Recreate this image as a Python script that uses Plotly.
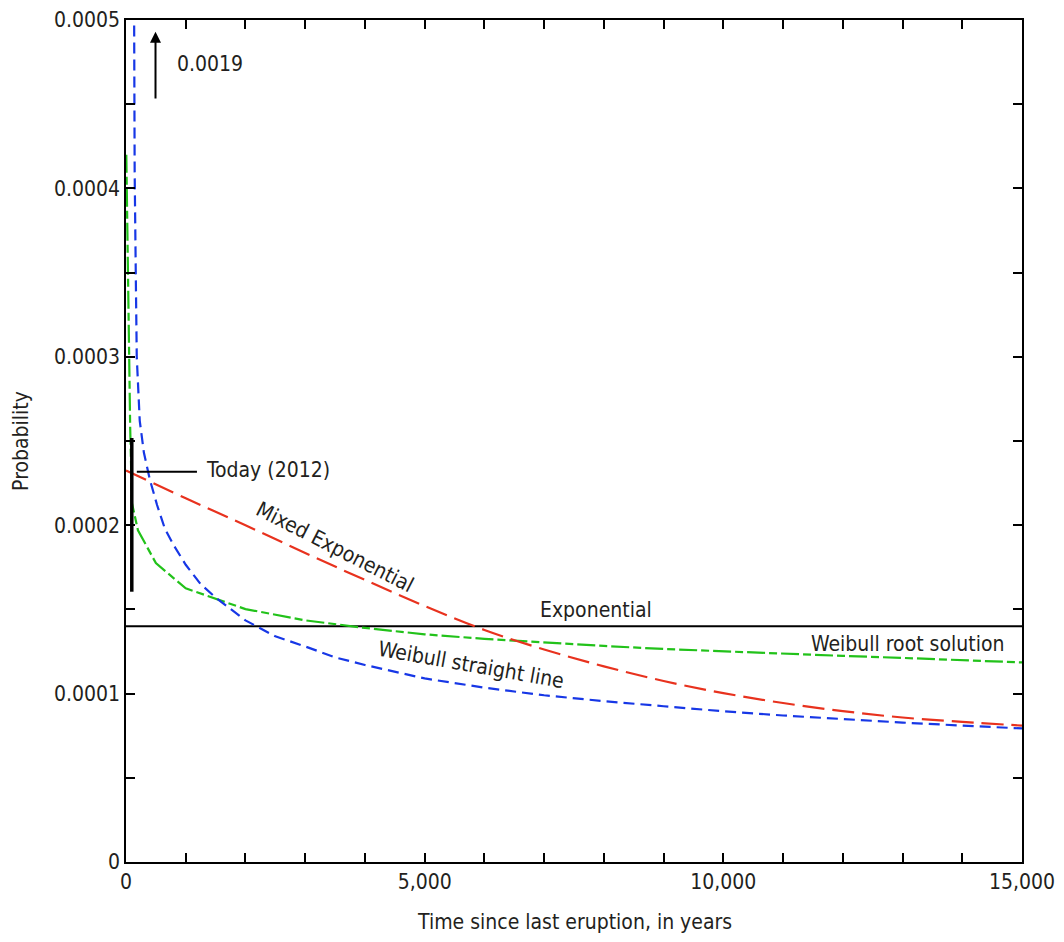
import plotly.graph_objects as go

# ---------------- data ----------------
exp_t = [0, 15000]
exp_p = [0.00014, 0.00014]

mixed_t = [0, 1000, 2000, 3000, 4000, 5000, 6000, 7000, 8000, 9000,
           10000, 11000, 12000, 13000, 14000, 15000]
mixed_p = [0.0002325, 0.000216, 0.0002, 0.0001835, 0.0001675, 0.000152,
           0.0001378, 0.0001262, 0.0001162, 0.0001075, 0.0001003, 0.0000944,
           0.0000896, 0.0000858, 0.0000832, 0.000081]

wroot_t = [5, 30, 70, 100, 200, 500, 1000, 2000, 3000, 4000, 5000, 6000,
           7000, 8000, 9000, 10000, 11000, 12000, 13000, 14000, 15000]
wroot_p = [0.00042, 0.000346, 0.000258, 0.000213, 0.000197, 0.0001775,
           0.0001625, 0.0001502, 0.0001435, 0.000139, 0.0001352, 0.0001325,
           0.0001302, 0.0001283, 0.0001265, 0.000125, 0.0001236, 0.0001224,
           0.0001212, 0.0001197, 0.0001185]

wline_t = [1, 125, 145, 165, 180, 230, 300, 400, 520, 650, 800, 1000, 1250,
           1500, 1750, 2000, 2500, 3000, 3500, 4000, 5000, 6000, 7000, 8000,
           9000, 10000, 11000, 12000, 13000, 14000, 15000]
wline_p = [0.0019, 0.0005, 0.00041, 0.000345, 0.0003, 0.000262, 0.000243,
           0.000227, 0.000212, 0.000198, 0.000188, 0.0001765, 0.000165,
           0.000157, 0.00015, 0.0001435, 0.000134, 0.000128, 0.0001215,
           0.000117, 0.000109, 0.0001035, 0.000099, 0.0000955, 0.0000925,
           0.0000895, 0.000087, 0.0000848, 0.0000828, 0.000081, 0.0000793]

today_t = 97
today_range = [0.0001605, 0.0002518]
today_tick_t = [181, 1188]
today_tick_p = 0.0002318

x_tickvals = list(range(0, 15001, 1000))
x_ticktext = ["0" if v == 0 else (f"{v:,}" if v % 5000 == 0 else "") for v in x_tickvals]
y_tickvals = [i * 0.00005 for i in range(11)]
y_ticklabels = ["0", "", "0.0001", "", "0.0002", "", "0.0003", "", "0.0004", "", "0.0005"]

FONT = "DejaVu Sans Condensed, Liberation Sans Narrow, sans-serif"
FS = 21
TXT = "#231f20"
RED = "#e8321e"
BLUE = "#1737e6"
GREEN = "#22c21a"

fig = go.Figure()
fig.add_trace(go.Scatter(x=exp_t, y=exp_p, mode="lines",
                         line=dict(color="black", width=2), hoverinfo="skip"))
fig.add_trace(go.Scatter(x=wroot_t, y=wroot_p, mode="lines",
                         line=dict(color=GREEN, width=2.2, dash="18px,4px,8px,4px")))
fig.add_trace(go.Scatter(x=mixed_t, y=mixed_p, mode="lines",
                         line=dict(color=RED, width=2.2, dash="22px,8px", shape="spline")))
fig.add_trace(go.Scatter(x=wline_t, y=wline_p, mode="lines",
                         line=dict(color=BLUE, width=2.2, dash="11px,6px")))

# Today marker
fig.add_shape(type="line", x0=today_t, x1=today_t, y0=today_range[0], y1=today_range[1],
              line=dict(color="black", width=3.5))
fig.add_shape(type="line", x0=today_tick_t[0], x1=today_tick_t[1], y0=today_tick_p, y1=today_tick_p,
              line=dict(color="black", width=2))

tf = dict(family=FONT, size=FS, color=TXT)
fig.add_annotation(x=today_tick_t[1] + 120, y=today_tick_p + 0.0000012, text="Today (2012)",
                   showarrow=False, xanchor="left", font=tf)
fig.add_annotation(x=3490, y=0.0001868, text="Mixed Exponential", showarrow=False,
                   textangle=27, font=tf)
fig.add_annotation(x=5780, y=0.0001172, text="Weibull straight line", showarrow=False,
                   textangle=10, font=tf)
fig.add_annotation(x=7860, y=0.0001495, text="Exponential", showarrow=False, font=tf)
fig.add_annotation(x=13090, y=0.0001295, text="Weibull root solution", showarrow=False, font=tf)
fig.add_annotation(x=828, y=0.000474, text="0.0019", showarrow=False, xanchor="left", font=tf)
# arrow
fig.add_annotation(x=494, y=0.000493, ax=494, ay=0.0004525, axref="x", ayref="y",
                   xref="x", yref="y", text="", showarrow=True, arrowhead=2,
                   arrowsize=1.1, arrowwidth=2, arrowcolor="black")
# x-axis title
fig.add_annotation(x=0.5, y=0, xref="paper", yref="paper", yanchor="middle",
                   yshift=-60, text="Time since last eruption, in years",
                   showarrow=False, font=tf)

axis_common = dict(showline=True, linecolor="black", linewidth=1.5, mirror="ticks",
                   ticks="inside", ticklen=9, tickwidth=2, tickcolor="black",
                   showgrid=False, zeroline=False, automargin=False,
                   tickfont=dict(family=FONT, size=FS, color=TXT))

# page body has an 8px margin, so the figure is sized/positioned to compensate
fig.update_layout(
    width=1048, height=926,
    margin=dict(l=118, r=34, t=12, b=72),
    paper_bgcolor="white", plot_bgcolor="white",
    showlegend=False,
    xaxis=dict(range=[0, 15000], tickmode="array", tickvals=x_tickvals, ticktext=x_ticktext,
               **axis_common),
    yaxis=dict(range=[0, 0.0005], tickmode="array", tickvals=y_tickvals, ticktext=y_ticklabels,
               title=dict(text="Probability",
                          font=dict(family=FONT, size=FS, color=TXT), standoff=20),
               **axis_common),
)

fig.write_html("out.html")
